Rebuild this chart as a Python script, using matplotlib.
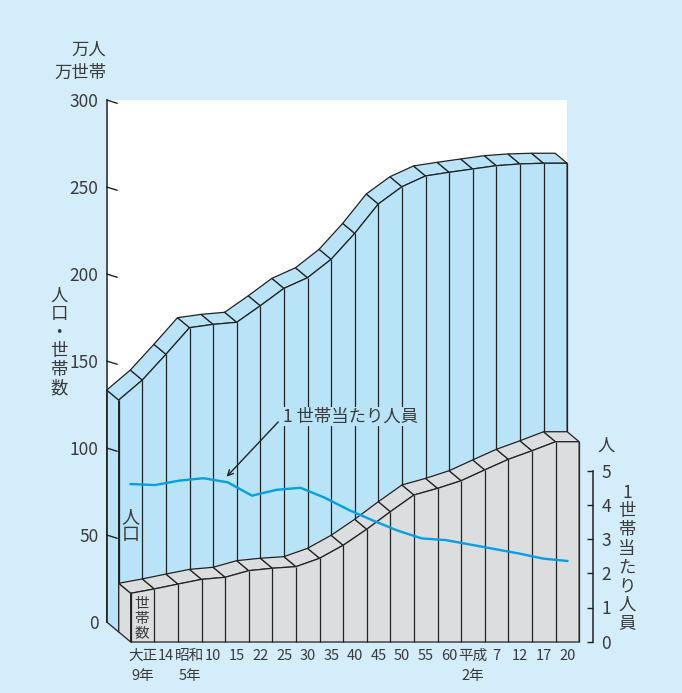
import matplotlib
matplotlib.use("Agg")
import matplotlib.pyplot as plt
from matplotlib.patches import Polygon
import numpy as np

plt.rcParams['font.family'] = ['Noto Sans CJK JP', 'DejaVu Sans']

# 国勢調査年ごとの人口・世帯数（万）と1世帯当たり人員（人）
years = ["大正\n9年", "14", "昭和\n5年", "10", "15", "22", "25", "30", "35", "40",
         "45", "50", "55", "60", "平成\n2年", "7", "12", "17", "20"]
population = [133.3, 144.8, 159.6, 174.9, 176.8, 178.0, 187.5, 197.5, 203.6, 214.2,
              229.1, 246.0, 255.9, 262.1, 264.2, 266.1, 268.0, 269.0, 269.4]
households = [28.0, 30.5, 33.3, 36.0, 37.2, 41.0, 42.4, 43.3, 48.1, 55.6,
              64.8, 74.9, 84.5, 88.3, 92.7, 98.9, 105.0, 109.9, 115.1]
per_household = [4.61, 4.58, 4.71, 4.78, 4.66, 4.27, 4.44, 4.50, 4.21, 3.85,
                 3.54, 3.25, 3.02, 2.97, 2.84, 2.71, 2.58, 2.43, 2.36]
left_ticks = [0, 50, 100, 150, 200, 250, 300]
right_ticks = [0, 1, 2, 3, 4, 5]

BG = "#d4edfa"
BLUE = "#b9e4f8"
GRAY = "#dcdddf"
LINE = "#00a0e9"
TXT = "#3a3a3a"
EDGE = "#222222"

W, H = 682, 693
STRIP = 23.6          # px per category
DX, DY = 0.51, -5.75  # depth of one row, in data units of the main axes


def rect(x0, top, w, h):
    return [x0 / W, 1 - (top + h) / H, w / W, h / H]


def px(x, y):
    return x / W, 1 - y / H


fig = plt.figure(figsize=(W / 100, H / 100), dpi=100, facecolor=BG)

n = len(years)
x_max = n + DX
ax = fig.add_axes(rect(106.7, 100, x_max * STRIP, 522))
ax.set_xlim(0, x_max)
ax.set_ylim(0, 300)
ax.set_facecolor("white")
for s in ["top", "right", "bottom"]:
    ax.spines[s].set_visible(False)
ax.spines["left"].set_color(EDGE)
ax.spines["left"].set_linewidth(1.1)
ax.set_xticks([])
ax.set_yticks(left_ticks)
ax.tick_params(axis="y", length=0, pad=6, labelsize=12.5, labelcolor=TXT)

# oblique tick marks on the back wall
for v in left_ticks[1:]:
    ax.annotate("", xy=(0, v), xytext=(10.5, -3.3), textcoords="offset pixels",
                arrowprops=dict(arrowstyle="-", lw=1, color=EDGE, shrinkA=0, shrinkB=0))


def draw_solid(vals, row, face, z):
    vals = np.append(vals, vals[-1])
    xs = np.arange(len(vals))
    bx, by = row * DX, row * DY
    fx, fy = (row + 1) * DX, (row + 1) * DY
    kw = dict(facecolor=face, edgecolor=EDGE, lw=0.9, zorder=z, clip_on=False)
    side = [(bx, by), (bx, vals[0] + by), (fx, vals[0] + fy), (fx, fy)]
    ax.add_patch(Polygon(side, **kw))
    for i in range(len(xs) - 1):
        quad = [(xs[i] + bx, vals[i] + by), (xs[i + 1] + bx, vals[i + 1] + by),
                (xs[i + 1] + fx, vals[i + 1] + fy), (xs[i] + fx, vals[i] + fy)]
        ax.add_patch(Polygon(quad, **kw))
    front = [(xs[0] + fx, fy)] + [(x + fx, v + fy) for x, v in zip(xs, vals)] + [(xs[-1] + fx, fy)]
    ax.add_patch(Polygon(front, **kw))
    ax.vlines(xs + fx, fy, vals + fy, colors=EDGE, lw=0.9, zorder=z + 0.1, clip_on=False)


draw_solid(np.array(population), 0, BLUE, 2)
draw_solid(np.array(households), 1, GRAY, 3)

ax.text(1.0, 55, "人\n口", ha="center", va="center", fontsize=13, color=TXT,
        linespacing=1.0, zorder=6)
ax.text(1.48, 2, "世\n帯\n数", ha="center", va="center", fontsize=10.5, color=TXT,
        linespacing=1.05, zorder=6, clip_on=False)

ax.annotate("", xy=(5.08, 83.5), xytext=(7.27, 115),
            arrowprops=dict(arrowstyle="->", lw=1, color=EDGE, shrinkA=0, shrinkB=0),
            zorder=6)
ax.text(7.47, 118, "1 世帯当たり人員", ha="left", va="center", fontsize=12.5, color=TXT,
        zorder=6, bbox=dict(facecolor=BLUE, edgecolor="none", pad=0.5))

# right scale: persons per household, on the front row
ax2 = fig.add_axes(rect(130.7, 470.7, 19.6 * STRIP, 171))
ax2.set_xlim(0, 19.6)
ax2.set_ylim(0, 5)
ax2.patch.set_visible(False)
for s in ["top", "left", "bottom"]:
    ax2.spines[s].set_visible(False)
ax2.spines["right"].set_color(EDGE)
ax2.spines["right"].set_linewidth(1.1)
ax2.yaxis.tick_right()
ax2.set_yticks(right_ticks)
ax2.tick_params(axis="y", direction="in", length=4.5, width=1, pad=6,
                labelsize=12.5, labelcolor=TXT, color=EDGE)
ax2.set_xticks(np.arange(n) + 0.5)
ax2.set_xticklabels(years, linespacing=1.6)
ax2.tick_params(axis="x", length=0, pad=5, labelsize=10.5, labelcolor=TXT)

ax2.plot(np.linspace(0, n - 0.5, n), per_household, color=LINE, lw=1.7,
         zorder=7, clip_on=False)

# axis captions
fig.text(*px(106, 50), "万人", ha="right", va="center", fontsize=12.5, color=TXT)
fig.text(*px(106, 73), "万世帯", ha="right", va="center", fontsize=12.5, color=TXT)
fig.text(*px(59, 342), "\n".join("人口・世帯数"), ha="center", va="center",
         fontsize=12.5, color=TXT, linespacing=1.05)
fig.text(*px(606, 446), "人", ha="center", va="center", fontsize=12.5, color=TXT)
fig.text(*px(627, 558), "\n".join("1世帯当たり人員"), ha="center", va="center",
         fontsize=12.5, color=TXT, linespacing=1.05)

fig.savefig("out.png", dpi=100, facecolor=BG)
